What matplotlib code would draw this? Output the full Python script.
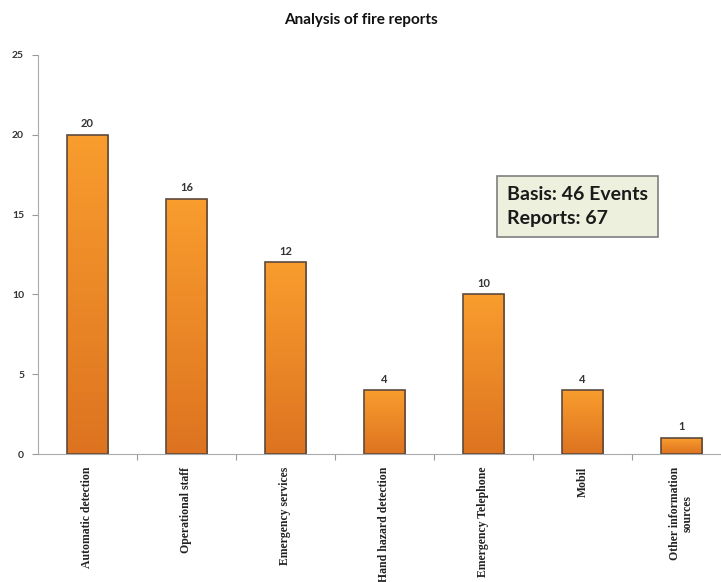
import matplotlib
matplotlib.use('Agg')
import matplotlib.pyplot as plt
import numpy as np
from matplotlib.colors import LinearSegmentedColormap

# data
categories = ['Automatic detection', 'Operational staff', 'Emergency services',
              'Hand hazard detection', 'Emergency Telephone', 'Mobil',
              'Other information\nsources']
reports = [20, 16, 12, 4, 10, 4, 1]
title = 'Analysis of fire reports'
note = 'Basis: 46 Events\nReports: 67'

fig = plt.figure(figsize=(7.21, 5.82), dpi=100)
ax = fig.add_axes([0.0527, 0.2199, 0.961, 0.6856])

x = np.arange(len(categories))
bars = ax.bar(x, reports, width=0.42, color='#F29433', edgecolor='#5e4a3e',
              linewidth=1.2, zorder=3)

# vertical orange gradient inside each bar
grad = LinearSegmentedColormap.from_list('orng', ['#DD7320', '#F99D2E'])
for b in bars:
    bx, by = b.get_x(), b.get_y()
    w, h = b.get_width(), b.get_height()
    img = ax.imshow(np.linspace(0, 1, 256).reshape(-1, 1), cmap=grad,
                    extent=[bx, bx + w, by, by + h], origin='lower',
                    aspect='auto', zorder=3.5)
    img.set_clip_path(b)
    b.set_facecolor('none')
    b.set_zorder(4)

for xi, v in zip(x, reports):
    ax.text(xi, v + 0.35, str(v), ha='center', va='bottom', fontsize=8,
            fontweight='bold', color='#333333', family='Lato')

ax.set_xlim(-0.5, len(categories) - 0.5)
ax.set_ylim(0, 25)
ax.set_yticks([0, 5, 10, 15, 20, 25])
ax.tick_params(axis='y', labelsize=7.5, colors='#333333', length=4, width=0.8,
               direction='out', pad=6)
for lab in ax.get_yticklabels():
    lab.set_fontweight('bold')
    lab.set_family('Lato')

# category ticks sit between bars
ax.set_xticks(x[:-1] + 0.5, minor=False)
ax.set_xticklabels([])
ax.tick_params(axis='x', length=4, width=0.8, color='#999999', direction='out')
for xi, name in zip(x, categories):
    ax.text(xi, -0.8, name, rotation=90, ha='center', va='top', fontsize=8.5,
            fontweight='bold', family='Liberation Serif', color='#222222',
            multialignment='center', linespacing=1.0)

for s in ['top', 'right']:
    ax.spines[s].set_visible(False)
ax.spines['left'].set_color('#aaaaaa')
ax.spines['bottom'].set_color('#aaaaaa')
ax.tick_params(axis='y', color='#999999')

fig.text(0.5, 0.966, title, ha='center', va='center', fontsize=11,
         fontweight='bold', family='Lato', color='#111111')

fig.text(0.7033, 0.645, note, ha='left', va='center', fontsize=14,
         fontweight='bold', family='Lato', color='#1a1a1a', linespacing=1.5,
         bbox=dict(boxstyle='square,pad=0.5', facecolor='#EEF0DE',
                   edgecolor='#7f7f7f', linewidth=1.2))

fig.savefig('out.png', dpi=100)
